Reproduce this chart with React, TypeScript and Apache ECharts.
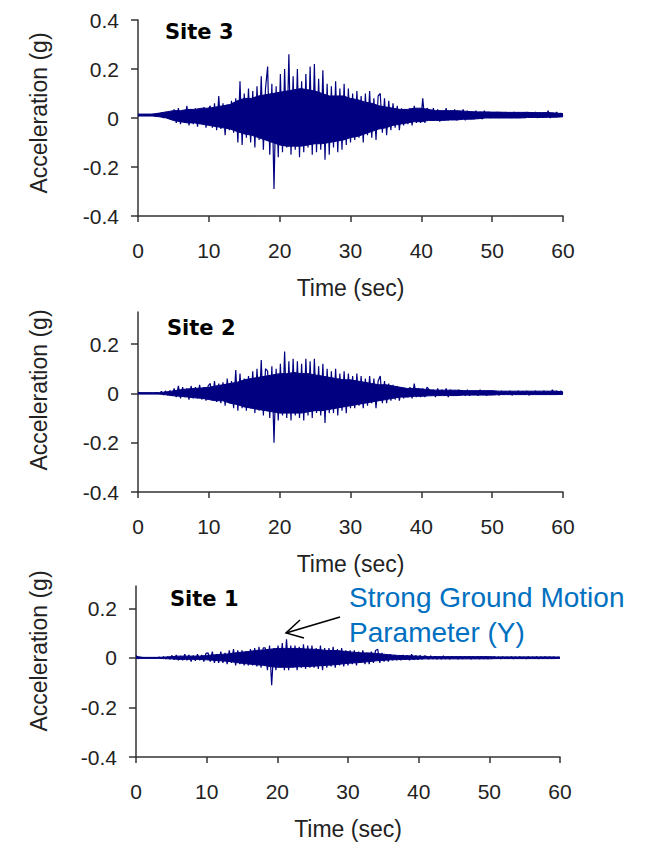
import React, { useEffect, useRef } from "react";
import * as echarts from "echarts";

// ---------- DATA (acceleration in hundredths of g, 0.01 g) ----------
// Oscillating trace, one value per TIME_STEP seconds
const TIME_STEP = 0.3;
// Solid core of the record (dense oscillation), one upper/lower value per BODY_STEP seconds
const BODY_STEP = 1;

const SITE3_CG = [
  1.2, 1.3, 1.1, 1.4, 1.2, 1.3, 1.1, 1.5, 1.2, 1.4, 1.0,
  2, 0, 2.5, -0.3, 2.2, 0.2,
  3.5, -2, 4, -2.5, 3, -1.5, 5, -3, 3.5, -2.5, 4, -3.5, 3, -2, 4.5, -4, 3.5,
  5, -4, 6, -5, 9, -4.5, 6, -7, 5.5, -5, 7, -6, 8,
  -10, 15, -11, 10, -8, 12, -10,
  11, -12, 13, -9, 17, -13, 12,
  21, -15, 14, -29, 13, -16,
  18, -14, 20, -12, 26, -15, 17,
  -13, 20, -16, 15, -14, 18, -12, 21, -15, 22,
  -14, 16, -13, 19.5, -17, 14, -15,
  13, -12, 15, -14, 12, -13, 14, -11, 12, -10,
  10, -9, 11, -8, 9, -10, 10, -7, 11, -8, 8, -9, 9,
  10, -6, 8, -7, 7, -5, 6, -4, 5, -5,
  4, -3, 3.5, -2.5, 4, -3, 5, -2, 3, -2,
  8, -2, 4,
  3, -1, 4, -0.5, 3.5, -1.5, 3, 0, 4, -1, 3, -0.5, 3.5, -1, 2.5, 0, 3.5, -1, 3, 0, 2.5, -0.5, 3, 0, 2.5, -0.5, 3, 0.5, 2.5, 0,
  2, 0.5, 2.5, 0, 2, 0.5, 2.5, 0.5, 2, 0, 2.5, 0.5, 2, 0.5, 2, 0, 2.5, 0.5, 2, 0.5, 2.5, 0, 2, 0.5, 2, 0.5, 3, 0, 2, 0.5, 2.5, 0.5, 2, 1,
];
const SITE3_BODY_UP = [
  1.6, 1.6, 1.6, 2, 2.5, 3, 3, 3.5, 3.5, 4,
  4, 4.5, 5, 5.5, 7, 8, 8, 9, 9.5, 10,
  10.5, 11, 11.5, 12, 11.5, 11, 10, 9, 9, 9,
  8, 7.5, 6.5, 6, 5, 4.5, 4, 3.5, 3.5, 4,
  4, 3.5, 3, 3, 3, 3, 2.8, 2.6, 2.5, 2.5,
  2.4, 2.4, 2.3, 2.3, 2.3, 2.3, 2.2, 2.2, 2.2, 2, 1.8,
];
const SITE3_BODY_LO = [
  0.8, 0.8, 0.8, 0.5, 0, -1, -1.5, -2, -2, -2.5,
  -3, -3.5, -4, -4.5, -5.5, -6.5, -7, -8, -9, -10,
  -11, -11.5, -11.5, -11.5, -11, -10.5, -10.5, -10, -9.5, -9,
  -8, -7.5, -6.5, -5.5, -4.5, -4, -3, -2.5, -2, -1.5,
  -1.5, -1, -1, -1, -0.8, -0.8, -0.5, -0.5, -0.3, 0,
  0, 0, 0, 0, 0, 0.2, 0.2, 0.2, 0.3, 0.3, 0.5,
];

const SITE2_CG = [
  0.5, 0, 0, 0, 0, 0, 0, 0, 0, 0.2, -0.2,
  0.8, -0.6, 1, -0.8, 1.2, -1,
  2, -1.5, 3, -2, 2.5, -1.5, 2, -2.5, 3, -2, 2.5, -2, 3.5, -2.5, 2.5, -3, 3,
  4, -3, 5, -3.5, 4, -4, 4.5, -5, 6, -4, 5, -6, 9.5,
  -7, 8, -6, 6, -7, 7, -6,
  9, -8, 10, -7, 13.5, -9, 10,
  9, -10, 11, -20, 10, -11,
  12, -9, 17, -10, 13, -11, 14,
  -9, 13, -10, 12, -11, 14, -9, 13, -10, 14,
  -8, 11, -9, 12, -12, 10, -8,
  9, -8, 10, -9, 8, -7, 9, -8, 8, -6,
  7, -6, 8, -5, 7, -6, 6, -5, 7, -4, 6, -6, 5,
  7, -4, 5, -4, 4, -3, 3.5, -2.5, 3, -3,
  2.5, -2, 2, -1.5, 2.5, -2, 4, -1.5, 2, -1.5,
  2, -1.5, 2.5,
  1.5, -1, 1.5, -1.5, 2, -1, 1.5, -1, 2, -1.5, 1.5, -1, 1, -1, 1.5, -0.5, 1, -1, 1.5, -1, 1, -0.5, 1, -1, 1.5, -0.5, 1, -1, 1, -0.5,
  1, -0.5, 0.5, -0.8, 1, -0.5, 0.8, -0.5, 1, -0.8, 0.5, -0.5, 1, -0.5, 0.8, -0.5, 1, -0.8, 0.5, -0.5, 1, -0.5, 0.5, -0.5, 1, -0.5, 0.8, -0.5, 1.5, -0.5, 1, -0.5, 1, 0,
];
const SITE2_BODY_UP = [
  0.3, 0.3, 0.3, 0.3, 0.6, 1, 1.5, 1.8, 2, 2.2,
  2.5, 3, 3.5, 4, 4.5, 5.5, 6, 6.5, 7, 7.5,
  8, 8, 8.5, 8, 8, 7.5, 7, 6.5, 6, 5.5,
  5.5, 5, 4.5, 4, 3.5, 3.5, 3, 2.5, 2, 2,
  1.8, 1.5, 1.3, 1.3, 1.3, 1.3, 1.1, 1.1, 1.1, 1.1,
  1.1, 0.9, 0.9, 0.9, 0.9, 0.9, 0.9, 0.9, 0.9, 0.9, 0.6,
];
const SITE2_BODY_LO = [
  -0.3, -0.3, -0.3, -0.3, -0.6, -1, -1.2, -1.5, -1.8, -2,
  -2.5, -3, -3, -4, -4.5, -5.5, -6, -6.5, -7, -7.5,
  -8, -8, -8, -8, -7.5, -7, -7, -6.5, -6, -5.5,
  -5, -4.5, -4, -3.5, -3, -2.5, -2, -1.5, -1.5, -1.2,
  -1.2, -1, -0.9, -0.9, -0.9, -0.9, -0.7, -0.7, -0.7, -0.7,
  -0.7, -0.5, -0.5, -0.5, -0.5, -0.5, -0.5, -0.5, -0.5, -0.5, -0.4,
];

const SITE1_CG = [
  1, -0.3, 0, 0, 0, 0, 0, 0, 0, 0, 0,
  0.3, -0.3, 0.5, -0.4, 0.5, -0.5,
  1, -0.8, 1.2, -1, 0.8, -1, 1.5, -1, 1.2, -1.5, 1, -1.2, 1.5, -1, 1.2, -1.5, 1.8,
  2, -1.5, 2.5, -2, 1.5, -2, 2.5, -2, 2, -2.5, 3, -2, 3.5,
  -3, 3, -2.5, 3, -3, 2.5, -3,
  3.5, -3, 4, -3.5, 4.5, -4, 4,
  4, -5, 5, -11, 4, -5,
  5, -4, 6, -5, 7.5, -5, 5,
  -4, 5, -5, 4.5, -4, 5.5, -4.5, 5, -4, 5,
  -4, 4, -4.5, 5, -5, 4, -4,
  4, -3.5, 4.5, -4, 3.5, -3, 4, -3.5, 3, -3,
  3, -2.5, 3, -3, 2.5, -2, 3, -2.5, 2, -2.5, 2.5, -2, 3,
  3.5, -2, 2, -1.5, 1.5, -1.5, 1.5, -1, 1.2, -1,
  1, -1, 1.2, -0.8, 1, -1, 1.5, -0.8, 1, -0.8,
  1, -0.5, 0.8,
  0.6, -0.5, 0.8, -0.4, 0.6, -0.5, 0.5, -0.5, 0.8, -0.4, 0.5, -0.5, 0.6, -0.3, 0.5, -0.5, 0.6, -0.4, 0.5, -0.3, 0.6, -0.5, 0.5, -0.3, 0.5, -0.4, 0.6, -0.3, 0.5, -0.4,
  0.4, -0.3, 0.5, -0.3, 0.4, -0.4, 0.5, -0.3, 0.4, -0.3, 0.5, -0.4, 0.4, -0.3, 0.5, -0.3, 0.4, -0.4, 0.5, -0.3, 0.4, -0.3, 0.5, -0.4, 0.4, -0.3, 0.5, -0.3, 0.4, -0.3, 0.4, -0.3, 0.3, 0,
];
const SITE1_BODY_UP = [
  0.6, 0.2, 0.2, 0.2, 0.3, 0.5, 0.7, 0.7, 0.7, 0.7,
  1, 1.2, 1.4, 1.6, 2, 2.3, 2.6, 3, 3.2, 3.5,
  3.8, 3.8, 3.8, 3.8, 3.6, 3.5, 3.3, 3, 3, 2.8,
  2.5, 2.2, 2, 2, 1.8, 1.5, 1.2, 1, 0.9, 0.8,
  0.7, 0.5, 0.5, 0.5, 0.5, 0.5, 0.5, 0.5, 0.5, 0.5,
  0.5, 0.4, 0.4, 0.4, 0.4, 0.4, 0.4, 0.4, 0.4, 0.4, 0.3,
];
const SITE1_BODY_LO = [
  -0.2, -0.2, -0.2, -0.2, -0.3, -0.4, -0.6, -0.6, -0.6, -0.6,
  -0.8, -1, -1.2, -1.4, -1.8, -2.2, -2.5, -2.8, -3, -3.5,
  -3.8, -3.8, -3.8, -3.6, -3.5, -3.4, -3.2, -3, -2.8, -2.5,
  -2.2, -2, -1.8, -1.5, -1.2, -1, -0.8, -0.7, -0.6, -0.6,
  -0.5, -0.4, -0.4, -0.4, -0.4, -0.4, -0.4, -0.4, -0.4, -0.4,
  -0.4, -0.3, -0.3, -0.3, -0.3, -0.3, -0.3, -0.3, -0.3, -0.3, -0.2,
];

const PANEL_TITLES = ["Site 3", "Site 2", "Site 1"];
const PANEL_TRACES = [SITE3_CG, SITE2_CG, SITE1_CG];
const PANEL_BODY_UP = [SITE3_BODY_UP, SITE2_BODY_UP, SITE1_BODY_UP];
const PANEL_BODY_LO = [SITE3_BODY_LO, SITE2_BODY_LO, SITE1_BODY_LO];
const Y_TICKS = [-0.4, -0.2, 0, 0.2, 0.4];
const Y_MIN = -0.4;
const Y_MAX = [0.4, 0.33, 0.29];
const X_MIN = 0;
const X_MAX = 60;
const X_INTERVAL = 10;
const X_NAME = "Time (sec)";
const Y_NAME = "Acceleration (g)";
const ANNOTATION_LINES = ["Strong Ground Motion", "Parameter (Y)"];

// ---------- STYLE ----------
const WAVE_COLOR = "#000080";
const AXIS_COLOR = "#333333";
const TEXT_COLOR = "#222222";
const NOTE_COLOR = "#0070C0";
const FONT = "Liberation Sans";

const GRIDS = [
  { left: 138, top: 20, width: 425, height: 196 },
  { left: 138, top: 312, width: 425, height: 180 },
  { left: 136, top: 586, width: 424, height: 171 },
];
const TITLE_POS = [
  { x: 165, y: 32 },
  { x: 167, y: 328 },
  { x: 170, y: 599 },
];
const YNAME_CENTER = [113, 390, 651];

function tracePairs(cg: number[]) {
  return cg.map((v, i) => [Number((i * TIME_STEP).toFixed(2)), v / 100]);
}

export default function App() {
  const ref = useRef<HTMLDivElement>(null);

  useEffect(() => {
    if (!ref.current) return;
    const chart = echarts.init(ref.current, null, { renderer: "svg" });

    const xAxes = GRIDS.map((_, i) => ({
      type: "value",
      gridIndex: i,
      min: X_MIN,
      max: X_MAX,
      interval: X_INTERVAL,
      name: X_NAME,
      nameLocation: "middle",
      nameGap: 60,
      nameTextStyle: { fontFamily: FONT, fontSize: 23, color: TEXT_COLOR },
      axisLine: { show: true, onZero: false, lineStyle: { color: AXIS_COLOR, width: 1.5 } },
      axisTick: { show: true, inside: false, length: 6, lineStyle: { color: AXIS_COLOR, width: 1.5 } },
      axisLabel: { fontFamily: FONT, fontSize: 21, color: TEXT_COLOR, margin: 24 },
      splitLine: { show: false },
    }));

    const yAxes = GRIDS.map((_, i) => {
      const ticks = Y_TICKS.filter((t) => t <= Y_MAX[i] + 1e-9);
      return {
        type: "value",
        gridIndex: i,
        min: Y_MIN,
        max: Y_MAX[i],
        interval: 0.2,
        axisLine: { show: true, onZero: false, lineStyle: { color: AXIS_COLOR, width: 1.5 } },
        axisTick: {
          show: true,
          inside: false,
          length: 7,
          customValues: ticks,
          lineStyle: { color: AXIS_COLOR, width: 1.5 },
        },
        axisLabel: {
          fontFamily: FONT,
          fontSize: 21,
          color: TEXT_COLOR,
          margin: 19,
          customValues: ticks,
          formatter: (v: number) => String(Math.round(v * 10) / 10),
        },
        splitLine: { show: false },
      };
    });

    const series: any[] = [];
    PANEL_TRACES.forEach((rec, i) => {
      const up = PANEL_BODY_UP[i];
      const lo = PANEL_BODY_LO[i];
      series.push({
        type: "custom",
        xAxisIndex: i,
        yAxisIndex: i,
        silent: true,
        clip: true,
        data: up.map((u, k) => [k * BODY_STEP, u / 100, lo[k] / 100]),
        encode: { x: 0, y: [1, 2] },
        renderItem: (params: any, api: any) => {
          if (params.dataIndex !== 0) return null;
          const top = up.map((u, k) => api.coord([k * BODY_STEP, u / 100]));
          const bottom = lo.map((l, k) => api.coord([k * BODY_STEP, l / 100])).reverse();
          return {
            type: "polygon",
            shape: { points: top.concat(bottom) },
            style: { fill: WAVE_COLOR, stroke: WAVE_COLOR, lineWidth: 1 },
          };
        },
      });
      series.push({
        type: "line",
        xAxisIndex: i,
        yAxisIndex: i,
        data: tracePairs(rec),
        showSymbol: false,
        symbol: "none",
        lineStyle: { color: WAVE_COLOR, width: 1.2 },
        clip: true,
        silent: true,
      });
    });

    const graphic: any[] = [];
    PANEL_TITLES.forEach((t, i) => {
      graphic.push({
        type: "text",
        x: TITLE_POS[i].x,
        y: TITLE_POS[i].y,
        style: {
          text: t,
          fontFamily: "DejaVu Sans",
          fontWeight: "bold",
          fontSize: 21,
          fill: "#000000",
          align: "left",
          verticalAlign: "middle",
        },
      });
      graphic.push({
        type: "text",
        x: 39,
        y: YNAME_CENTER[i],
        rotation: Math.PI / 2,
        style: {
          text: Y_NAME,
          fontFamily: FONT,
          fontSize: 23,
          fill: TEXT_COLOR,
          align: "center",
          verticalAlign: "middle",
        },
      });
    });
    ANNOTATION_LINES.forEach((t, k) => {
      graphic.push({
        type: "text",
        x: 349,
        y: 597 + k * 35,
        style: {
          text: t,
          fontFamily: FONT,
          fontSize: 28,
          fill: NOTE_COLOR,
          align: "left",
          verticalAlign: "middle",
        },
      });
    });
    graphic.push({
      type: "line",
      shape: { x1: 340, y1: 617, x2: 286, y2: 633 },
      style: { stroke: "#000000", lineWidth: 1.5 },
    });
    graphic.push({
      type: "polyline",
      shape: { points: [[300, 620], [286, 633], [304, 638]] },
      style: { stroke: "#000000", lineWidth: 1.5, fill: null },
    });

    chart.setOption({
      animation: false,
      backgroundColor: "#ffffff",
      grid: GRIDS.map((g) => ({ ...g, containLabel: false })),
      xAxis: xAxes,
      yAxis: yAxes,
      series,
      graphic,
    });

    return () => chart.dispose();
  }, []);

  return (
    <div
      ref={ref}
      style={{ position: "fixed", left: 0, top: 0, width: 653, height: 845, background: "#fff" }}
    />
  );
}
